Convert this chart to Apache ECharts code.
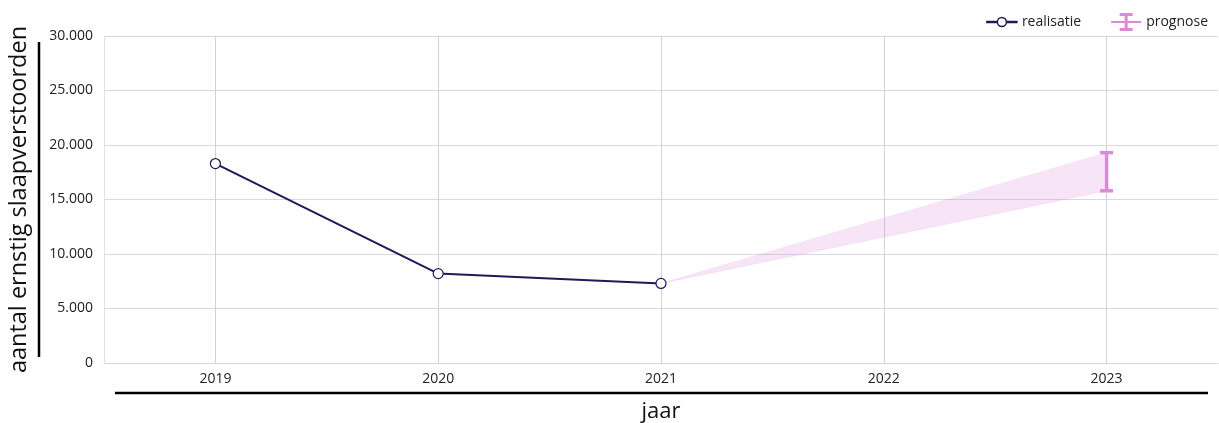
<!DOCTYPE html>
<html><head><meta charset="utf-8">
<script src="https://cdn.jsdelivr.net/npm/echarts@6/dist/echarts.min.js"></script>
<style>html,body{margin:0;padding:0;background:#fff}#c{width:1219px;height:423px}</style>
</head><body><div id="c"></div>
<script>
const years = ['2019', '2020', '2021', '2022', '2023'];
const realisatie = [18300, 8200, 7300, null, null];
// prognosis band: from last realised point to forecast interval
const bandYears = ['2021', '2023'];
const bandLow = [7300, 15800];
const bandHigh = [7300, 19300];
// error bar for 2023
const errYear = '2023';
const errLow = 15800;
const errHigh = 19300;

const navy = '#1d1a57';
const pink = '#d98ad9';
const font = '"Open Sans", "Noto Sans", sans-serif';

const chart = echarts.init(document.getElementById('c'), null, {renderer: 'canvas'});
const fmt = v => String(v).replace(/\B(?=(\d{3})+(?!\d))/g, '.');

chart.setOption({
  animation: false,
  textStyle: {fontFamily: font},
  grid: {left: 104, right: 1, top: 36, bottom: 60, outerBoundsMode: 'none', containLabel: false},
  legend: {
    top: 8, right: 6, itemGap: 30, itemWidth: 30, itemHeight: 18,
    textStyle: {fontFamily: font, fontSize: 14, color: '#222'},
    data: [
      {name: 'realisatie',
       icon: 'path://M0,8.6H10.5V9.4H0ZM19.5,8.6H30V9.4H19.5ZM10.5,9A4.5,4.5 0 1 0 19.5,9A4.5,4.5 0 1 0 10.5,9Z',
       itemStyle: {color: '#fff', borderColor: navy, borderWidth: 1.5}},
      {name: 'prognose', icon: 'path://M8.5,0H21.5V3H16.5V8H30V10H16.5V15H21.5V18H8.5V15H13.5V10H0V8H13.5V3H8.5Z', itemStyle: {color: pink}}
    ]
  },
  xAxis: {
    type: 'category', data: years, boundaryGap: true,
    name: 'jaar', nameLocation: 'middle', nameGap: 38,
    nameTextStyle: {fontFamily: font, fontSize: 22, color: '#111'},
    axisLine: {show: true, lineStyle: {color: '#d7d5e0', width: 1}},
    axisTick: {show: false},
    axisLabel: {fontFamily: font, fontSize: 14, color: '#222', margin: 9},
    splitLine: {show: true, alignWithLabel: true, lineStyle: {color: '#d3cfe0', width: 1}}
  },
  yAxis: {
    type: 'value', min: 0, max: 30000, interval: 5000,
    name: 'aantal ernstig slaapverstoorden', nameLocation: 'middle', nameGap: 73,
    nameTextStyle: {fontFamily: font, fontSize: 23.5, color: '#111'},
    axisLine: {show: true, lineStyle: {color: '#e0dee8', width: 1}},
    axisTick: {show: false},
    axisLabel: {fontFamily: font, fontSize: 14, color: '#222', margin: 11, formatter: v => fmt(v)},
    splitLine: {show: true, lineStyle: {color: '#d9d7e2', width: 1}}
  },
  series: [
    {
      name: 'prognose-band', type: 'custom', silent: true, z: 1,
      data: [0],
      renderItem: function (params, api) {
        const upper = bandYears.map((y, i) => api.coord([y, bandHigh[i]]));
        const lower = bandYears.map((y, i) => api.coord([y, bandLow[i]])).reverse();
        return {type: 'polygon', shape: {points: upper.concat(lower)},
          style: {fill: 'rgba(217,138,217,0.22)', stroke: 'rgba(217,138,217,0.3)', lineWidth: 0.5}};
      }
    },
    {
      name: 'realisatie', type: 'line', data: realisatie, z: 3,
      symbol: 'circle', symbolSize: 10, showSymbol: true,
      lineStyle: {color: navy, width: 2},
      itemStyle: {color: '#fff', borderColor: navy, borderWidth: 1.2},
      color: navy
    },
    {
      name: 'prognose', type: 'custom', z: 4,
      itemStyle: {color: pink},
      data: [[errYear, errLow, errHigh]],
      renderItem: function (params, api) {
        const x = api.value(0);
        const lo = api.coord([x, api.value(1)]);
        const hi = api.coord([x, api.value(2)]);
        const hw = 6.5;
        const st = {stroke: pink, lineWidth: 3.5, fill: null};
        return {type: 'group', children: [
          {type: 'line', shape: {x1: hi[0], y1: hi[1], x2: lo[0], y2: lo[1]}, style: st},
          {type: 'line', shape: {x1: hi[0] - hw, y1: hi[1], x2: hi[0] + hw, y2: hi[1]}, style: st},
          {type: 'line', shape: {x1: lo[0] - hw, y1: lo[1], x2: lo[0] + hw, y2: lo[1]}, style: st}
        ]};
      }
    }
  ],
  graphic: [
    {type: 'line', shape: {x1: 39, y1: 42, x2: 39, y2: 357}, style: {stroke: '#000', lineWidth: 2.5}},
    {type: 'line', shape: {x1: 115, y1: 393, x2: 1208, y2: 393}, style: {stroke: '#000', lineWidth: 2.5}}
  ]
});
</script></body></html>
